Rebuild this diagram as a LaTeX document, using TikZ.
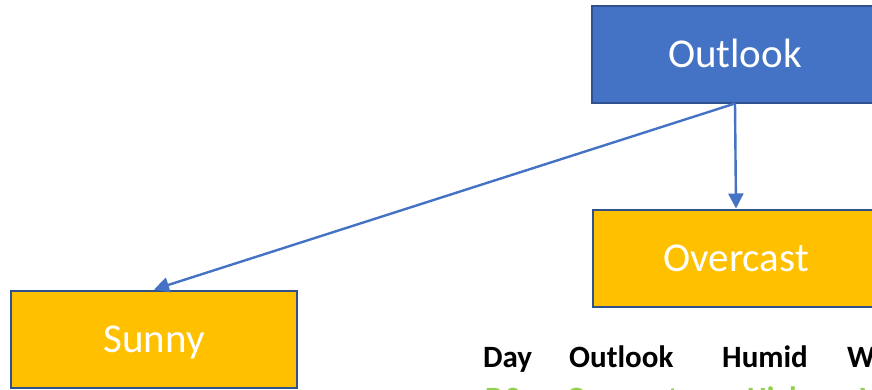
\documentclass[tikz,border=0pt]{standalone}
\usepackage{fontspec}
\setmainfont{Carlito}
\usetikzlibrary{arrows.meta}
\definecolor{boxblue}{HTML}{4472C4}
\definecolor{edgeblue}{HTML}{2F528F}
\definecolor{boxgold}{HTML}{FFC000}
\definecolor{yesgreen}{HTML}{92D050}
\tikzset{
  treebox/.style={draw=edgeblue, line width=2pt, minimum width=286pt, minimum height=97pt,
    inner sep=0pt, text height=27pt, text depth=0pt, text=white,
    font=\fontsize{41}{49}\selectfont},
  rootbox/.style={treebox, fill=boxblue},
  leafbox/.style={treebox, fill=boxgold},
  branch/.style={draw=boxblue, line width=2.4pt, -{Triangle[length=15pt,width=15pt]}},
  headcell/.style={anchor=base west, inner sep=0pt, font=\fontsize{31}{37}\selectfont\bfseries},
  rowcell/.style={headcell, text=yesgreen}
}
\begin{document}
\begin{tikzpicture}[x=1pt, y=-1pt]
  \useasboundingbox (0,0) rectangle (872,389);
  \clip (0,0) rectangle (872,389);
  % decision tree
  \node[rootbox] (outlook) at (735,54) {Outlook};
  \node[leafbox] (overcast) at (736,258) {Overcast};
  \node[leafbox] (sunny) at (154,339) {Sunny};
  \draw[branch] (outlook.south) -- (overcast.north);
  \draw[branch] (outlook.south) -- (sunny.north);
  % data table
  \node[headcell] (hday) at (483,367) {Day};
  \node[headcell] (hout) at (569,367) {Outlook};
  \node[headcell] (hhum) at (722,367) {Humid};
  \node[headcell] (hwind) at (847,367) {Wind};
  \node[rowcell] (rday) at (485,408) {D3};
  \node[rowcell] (rout) at (566,408) {Overcast};
  \node[rowcell] (rhum) at (747,408) {High};
  \node[rowcell] (rwind) at (860,408) {Weak};
\end{tikzpicture}
\end{document}
